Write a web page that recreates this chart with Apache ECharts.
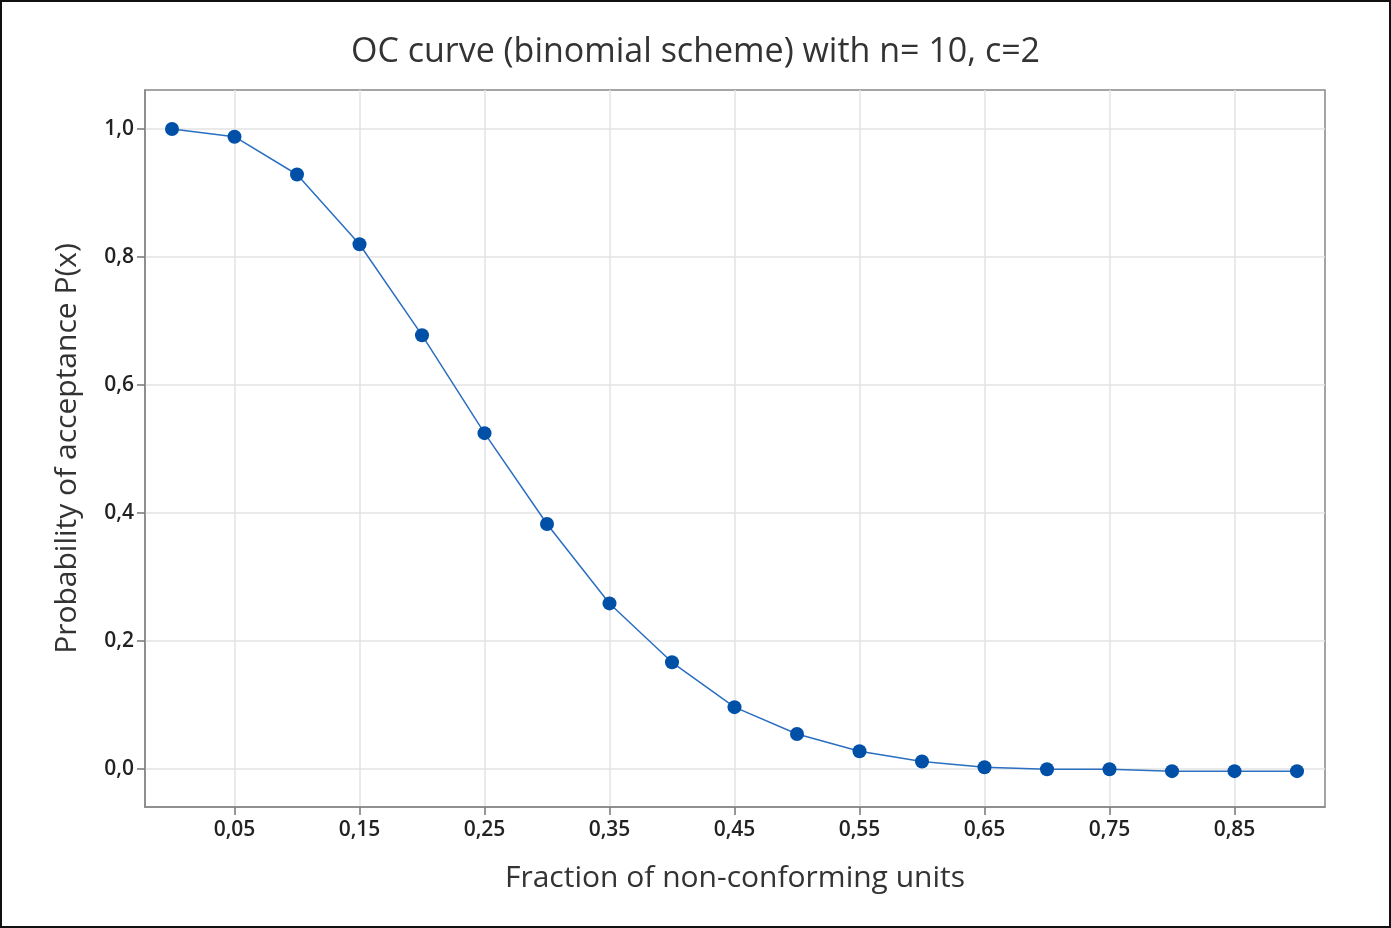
<!DOCTYPE html>
<html lang="en">
	<head>
		<meta charset="utf-8" />
		<title>OC curve</title>
		<style>
			html, body { margin: 0; padding: 0; background: #fff; }
			#ocChart { width: 1387px; height: 924px; border: 2px solid #111; }
		</style>
	</head>
	<body>
		<div id="ocChart"></div>

		<script type="text/javascript" src="https://cdn.jsdelivr.net/npm/echarts@6.0.0/dist/echarts.min.js"></script>
		<script type="text/javascript">
			// fraction of non-conforming units
			var fractions = [0, 0.05, 0.10, 0.15, 0.20, 0.25, 0.30, 0.35, 0.40, 0.45,
				0.50, 0.55, 0.60, 0.65, 0.70, 0.75, 0.80, 0.85, 0.90];
			// probability of acceptance
			var probAccept = [1.000, 0.988, 0.929, 0.820, 0.678, 0.525, 0.383, 0.259, 0.167, 0.097,
				0.055, 0.028, 0.012, 0.003, 0.000, 0.000, -0.003, -0.003, -0.003];
			// tick labels
			var xTicks = [0.05, 0.15, 0.25, 0.35, 0.45, 0.55, 0.65, 0.75, 0.85];
			var yTicks = [0, 0.2, 0.4, 0.6, 0.8, 1.0];

			var fontName = 'Open Sans, Noto Sans, sans-serif';

			function comma(v, digits) {
				return v.toFixed(digits).replace('.', ',');
			}

			// 组装数据
			var points = [];
			for (var i = 0; i < fractions.length; i++) {
				points.push([fractions[i], probAccept[i]]);
			}

			var chart = echarts.init(document.getElementById('ocChart'));

			var option = {
				backgroundColor: '#fff',
				animation: false,
				title: {
					text: 'OC curve (binomial scheme) with n= 10, c=2',
					left: 'center',
					top: 28,
					textStyle: {
						fontFamily: fontName,
						fontSize: 34,
						fontWeight: 'normal',
						color: '#333'
					}
				},
				grid: {
					left: 143,
					top: 88,
					width: 1180,
					height: 717,
					show: true,
					borderColor: '#888',
					borderWidth: 1.5,
					backgroundColor: 'transparent'
				},
				xAxis: {
					type: 'value',
					min: -0.0216,
					max: 0.9224,
					name: 'Fraction of non-conforming units',
					nameLocation: 'middle',
					nameGap: 56,
					nameTextStyle: { fontFamily: fontName, fontSize: 30, color: '#333' },
					axisLine: { show: true, onZero: false, lineStyle: { color: '#888', width: 1.5 } },
					axisTick: { show: true, length: 8, customValues: xTicks, lineStyle: { color: '#777', width: 1.5 } },
					axisLabel: {
						customValues: xTicks,
						margin: 13,
						fontFamily: fontName,
						fontSize: 21,
						fontWeight: 600,
						color: '#222',
						formatter: function (v) { return comma(v, 2); }
					},
					splitLine: { show: true, lineStyle: { color: '#e3e3e3', width: 1.5 } }
				},
				yAxis: {
					type: 'value',
					min: -0.059,
					max: 1.061,
					name: 'Probability of acceptance P(x)',
					nameLocation: 'middle',
					nameGap: 63,
					nameTextStyle: { fontFamily: fontName, fontSize: 30, color: '#333' },
					axisLine: { show: true, onZero: false, lineStyle: { color: '#888', width: 1.5 } },
					axisTick: { show: true, length: 8, customValues: yTicks, lineStyle: { color: '#777', width: 1.5 } },
					axisLabel: {
						customValues: yTicks,
						margin: 11,
						fontFamily: fontName,
						fontSize: 21,
						fontWeight: 600,
						color: '#222',
						formatter: function (v) { return comma(v, 1); }
					},
					splitLine: { show: true, lineStyle: { color: '#e3e3e3', width: 1.5 } }
				},
				series: [
					{
						type: 'line',
						data: points,
						symbol: 'circle',
						symbolSize: 14,
						itemStyle: { color: '#0050a8' },
						lineStyle: { color: '#2a6fc0', width: 1.5 }
					}
				]
			};

			chart.setOption(option);
		</script>
	</body>
</html>
